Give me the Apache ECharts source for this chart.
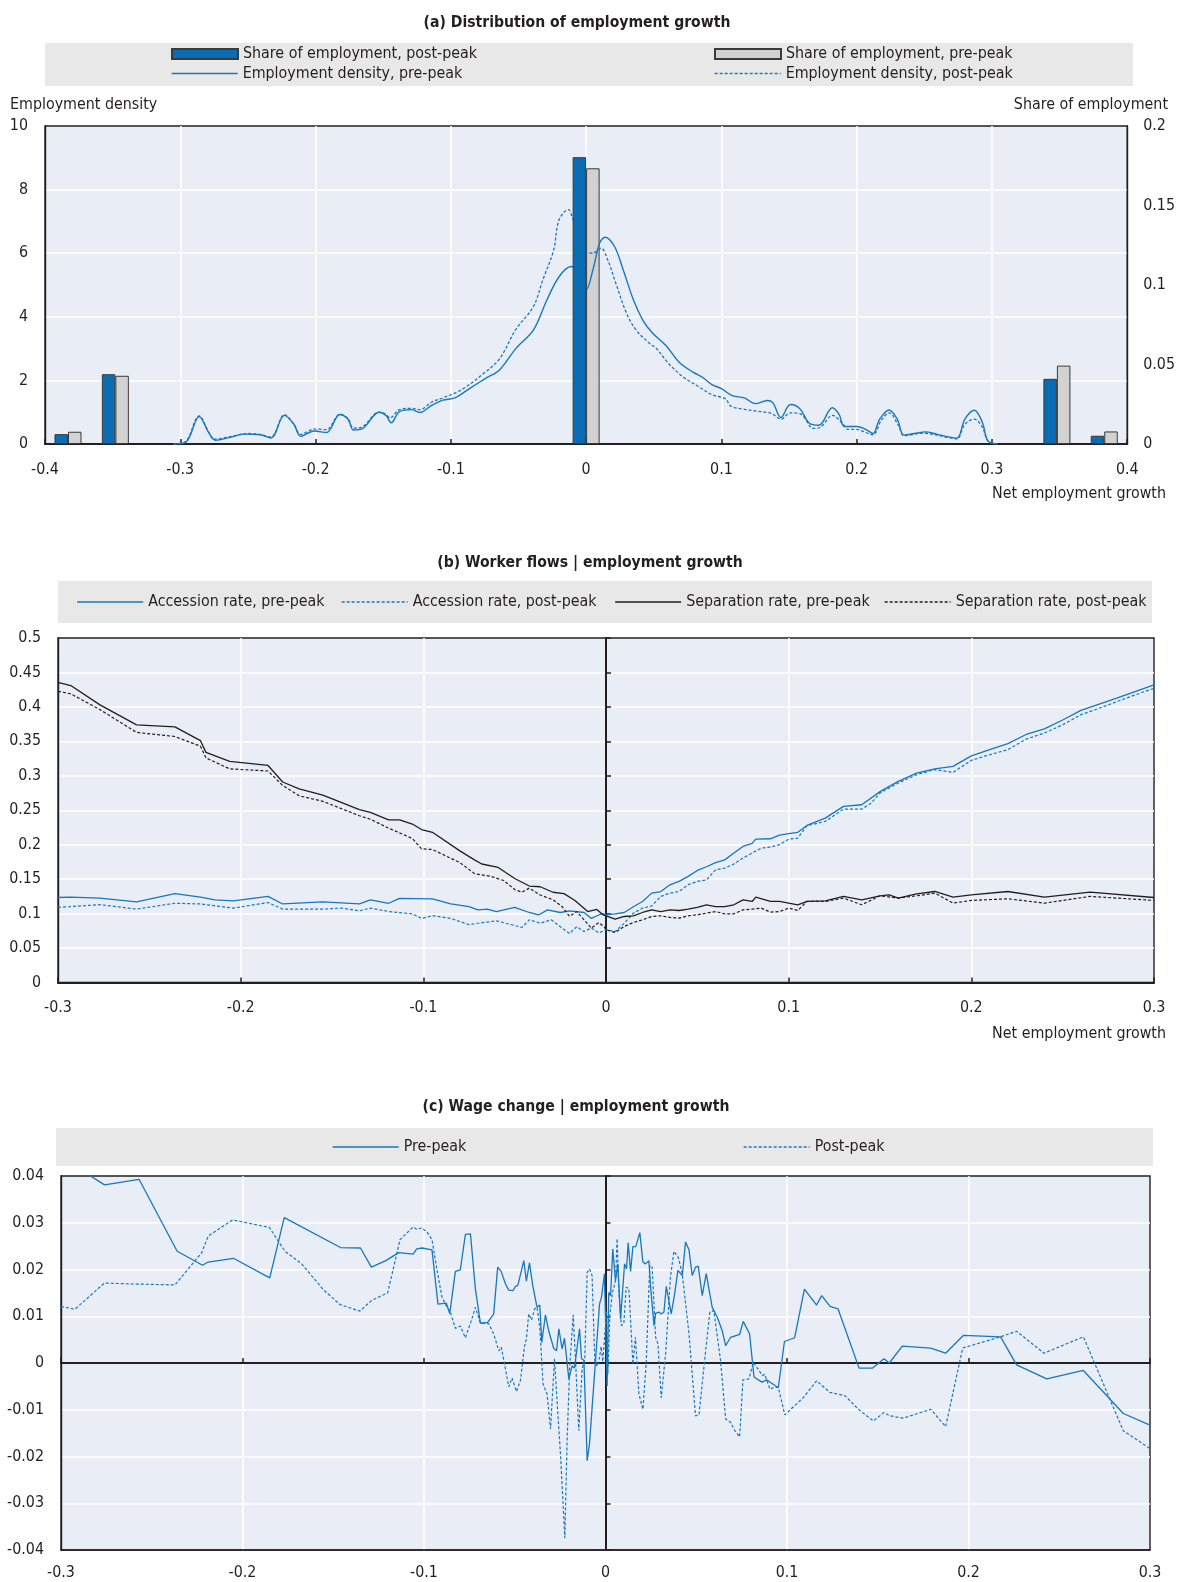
<!DOCTYPE html>
<html><head><meta charset="utf-8">
<script src="https://cdn.jsdelivr.net/npm/echarts@6/dist/echarts.min.js"></script>
<style>html,body{margin:0;padding:0;background:#fff}#c{width:1178px;height:1582px}</style>
</head><body><div id="c"></div>
<script>
// ---------- Panel (a) ----------
const barX = [-0.383, -0.348, 0, 0.348, 0.383];
const sharePost = [0.0062, 0.0439, 0.1804, 0.0410, 0.0052];
const sharePre  = [0.0077, 0.0429, 0.1734, 0.0493, 0.0079];
const densityPre = [[-0.305,0],[-0.296,0.05],[-0.286,0.86],[-0.279,0.36],[-0.274,0.12],[-0.264,0.2],[-0.253,0.31],[-0.241,0.29],[-0.233,0.19],[-0.223,0.9],[-0.216,0.62],[-0.211,0.24],[-0.201,0.41],[-0.192,0.36],[-0.182,0.93],[-0.176,0.78],[-0.172,0.44],[-0.165,0.49],[-0.153,1.0],[-0.148,0.9],[-0.144,0.67],[-0.138,1.02],[-0.129,1.08],[-0.123,0.99],[-0.114,1.22],[-0.106,1.38],[-0.097,1.45],[-0.086,1.75],[-0.074,2.07],[-0.064,2.33],[-0.052,3.0],[-0.039,3.58],[-0.029,4.53],[-0.020,5.26],[-0.011,5.58],[-0.005,5.4],[0,4.84],[0.005,5.47],[0.010,6.32],[0.014,6.5],[0.021,6.21],[0.027,5.53],[0.035,4.53],[0.042,3.89],[0.049,3.49],[0.059,3.1],[0.069,2.56],[0.079,2.26],[0.086,2.1],[0.093,1.87],[0.100,1.74],[0.108,1.52],[0.117,1.45],[0.125,1.27],[0.134,1.37],[0.138,1.3],[0.144,0.83],[0.151,1.24],[0.158,1.11],[0.165,0.65],[0.172,0.59],[0.182,1.14],[0.187,0.93],[0.191,0.55],[0.200,0.55],[0.207,0.45],[0.212,0.33],[0.217,0.78],[0.224,1.07],[0.230,0.78],[0.235,0.28],[0.244,0.34],[0.251,0.38],[0.259,0.31],[0.266,0.24],[0.274,0.18],[0.280,0.78],[0.287,1.06],[0.293,0.67],[0.297,0.1],[0.304,0]];
const densityPost = [[-0.305,0],[-0.296,0.08],[-0.286,0.88],[-0.279,0.38],[-0.275,0.15],[-0.262,0.24],[-0.250,0.33],[-0.241,0.3],[-0.233,0.22],[-0.223,0.92],[-0.216,0.62],[-0.211,0.3],[-0.201,0.47],[-0.192,0.45],[-0.182,0.93],[-0.176,0.8],[-0.172,0.5],[-0.165,0.55],[-0.153,1.0],[-0.148,0.93],[-0.145,0.82],[-0.138,1.08],[-0.129,1.12],[-0.123,1.08],[-0.114,1.32],[-0.106,1.45],[-0.097,1.6],[-0.089,1.79],[-0.076,2.21],[-0.064,2.68],[-0.052,3.6],[-0.039,4.32],[-0.032,5.16],[-0.024,6.1],[-0.020,7.05],[-0.013,7.37],[-0.010,7.1],[-0.005,6.6],[0,6.05],[0.005,6.0],[0.011,6.16],[0.016,5.79],[0.022,5.05],[0.030,4.1],[0.037,3.58],[0.047,3.16],[0.052,3.0],[0.059,2.63],[0.063,2.44],[0.072,2.1],[0.083,1.81],[0.093,1.55],[0.103,1.42],[0.107,1.19],[0.117,1.09],[0.125,1.04],[0.137,0.96],[0.144,0.78],[0.151,0.98],[0.159,0.93],[0.168,0.49],[0.173,0.52],[0.182,0.9],[0.190,0.62],[0.193,0.47],[0.201,0.45],[0.212,0.29],[0.218,0.73],[0.224,0.98],[0.231,0.57],[0.235,0.26],[0.249,0.34],[0.266,0.22],[0.274,0.16],[0.280,0.62],[0.287,0.78],[0.293,0.52],[0.297,0.1],[0.304,0]];

// ---------- Panel (b) ----------
const accessionPre = [[-0.3,0.1234],[-0.293,0.124],[-0.277,0.1225],[-0.257,0.117],[-0.236,0.129],[-0.222,0.124],[-0.214,0.12],[-0.204,0.1186],[-0.185,0.125],[-0.177,0.114],[-0.155,0.117],[-0.135,0.114],[-0.129,0.12],[-0.119,0.115],[-0.113,0.122],[-0.095,0.1215],[-0.085,0.114],[-0.075,0.11],[-0.070,0.1055],[-0.065,0.1065],[-0.060,0.103],[-0.050,0.109],[-0.042,0.1016],[-0.037,0.098],[-0.032,0.1055],[-0.025,0.1016],[-0.020,0.104],[-0.012,0.1016],[-0.008,0.093],[-0.004,0.098],[-0.002,0.1],[0,0.098],[0.005,0.0997],[0.01,0.1016],[0.015,0.110],[0.02,0.1176],[0.025,0.1297],[0.03,0.132],[0.035,0.1418],[0.04,0.1467],[0.045,0.154],[0.05,0.1626],[0.055,0.168],[0.06,0.174],[0.065,0.178],[0.07,0.188],[0.075,0.1975],[0.08,0.202],[0.082,0.208],[0.09,0.2086],[0.095,0.214],[0.1,0.216],[0.105,0.218],[0.11,0.228],[0.12,0.2386],[0.13,0.2556],[0.14,0.258],[0.15,0.277],[0.16,0.292],[0.17,0.304],[0.18,0.31],[0.19,0.3137],[0.2,0.329],[0.21,0.338],[0.22,0.3466],[0.23,0.36],[0.24,0.368],[0.25,0.381],[0.26,0.395],[0.27,0.404],[0.28,0.413],[0.29,0.4226],[0.3,0.432]];
const accessionPost = [[-0.3,0.109],[-0.277,0.113],[-0.257,0.1065],[-0.236,0.115],[-0.222,0.114],[-0.204,0.108],[-0.185,0.116],[-0.177,0.1065],[-0.155,0.1065],[-0.145,0.108],[-0.135,0.104],[-0.129,0.108],[-0.119,0.103],[-0.106,0.0997],[-0.101,0.093],[-0.095,0.097],[-0.085,0.093],[-0.075,0.084],[-0.070,0.086],[-0.060,0.0895],[-0.052,0.084],[-0.046,0.080],[-0.042,0.091],[-0.036,0.086],[-0.030,0.091],[-0.025,0.081],[-0.020,0.071],[-0.016,0.081],[-0.012,0.074],[-0.008,0.079],[-0.004,0.072],[0,0.0765],[0.005,0.074],[0.01,0.086],[0.015,0.1007],[0.02,0.108],[0.025,0.111],[0.03,0.125],[0.035,0.1297],[0.04,0.132],[0.045,0.142],[0.05,0.1467],[0.055,0.149],[0.06,0.1636],[0.065,0.166],[0.07,0.172],[0.075,0.1806],[0.08,0.188],[0.085,0.195],[0.09,0.1965],[0.095,0.2],[0.1,0.208],[0.105,0.2096],[0.11,0.2275],[0.12,0.2338],[0.13,0.2517],[0.14,0.2517],[0.145,0.26],[0.15,0.275],[0.16,0.2895],[0.17,0.3016],[0.18,0.309],[0.19,0.305],[0.2,0.3224],[0.21,0.3306],[0.22,0.338],[0.23,0.3533],[0.24,0.362],[0.25,0.374],[0.26,0.3887],[0.27,0.398],[0.28,0.408],[0.29,0.4177],[0.3,0.427]];
const separationPre = [[-0.3,0.4356],[-0.293,0.431],[-0.277,0.403],[-0.257,0.374],[-0.236,0.371],[-0.222,0.351],[-0.219,0.334],[-0.206,0.321],[-0.185,0.315],[-0.177,0.291],[-0.168,0.281],[-0.155,0.272],[-0.135,0.251],[-0.129,0.247],[-0.119,0.236],[-0.113,0.236],[-0.106,0.23],[-0.101,0.222],[-0.095,0.218],[-0.080,0.191],[-0.072,0.178],[-0.068,0.172],[-0.059,0.167],[-0.050,0.151],[-0.042,0.140],[-0.036,0.139],[-0.029,0.131],[-0.023,0.129],[-0.017,0.119],[-0.010,0.103],[-0.005,0.106],[-0.002,0.099],[0,0.0968],[0.005,0.092],[0.01,0.0958],[0.015,0.0968],[0.02,0.1016],[0.025,0.1055],[0.03,0.103],[0.035,0.1055],[0.04,0.1045],[0.045,0.1065],[0.05,0.109],[0.055,0.1128],[0.06,0.110],[0.065,0.110],[0.07,0.1128],[0.075,0.120],[0.08,0.1176],[0.082,0.124],[0.09,0.1176],[0.095,0.1176],[0.1,0.1152],[0.105,0.1128],[0.11,0.1176],[0.12,0.1186],[0.13,0.1249],[0.14,0.12],[0.15,0.1258],[0.155,0.1273],[0.16,0.1225],[0.17,0.1287],[0.18,0.1321],[0.19,0.1239],[0.2,0.1273],[0.22,0.1321],[0.24,0.1239],[0.265,0.1312],[0.3,0.1234]];
const separationPost = [[-0.3,0.4226],[-0.293,0.419],[-0.277,0.396],[-0.257,0.363],[-0.236,0.357],[-0.222,0.343],[-0.219,0.326],[-0.206,0.31],[-0.185,0.307],[-0.177,0.286],[-0.168,0.271],[-0.155,0.263],[-0.135,0.242],[-0.129,0.237],[-0.119,0.224],[-0.106,0.209],[-0.101,0.194],[-0.095,0.193],[-0.080,0.174],[-0.072,0.158],[-0.063,0.154],[-0.056,0.148],[-0.050,0.135],[-0.046,0.131],[-0.042,0.137],[-0.036,0.127],[-0.029,0.12],[-0.024,0.110],[-0.020,0.096],[-0.016,0.103],[-0.012,0.091],[-0.008,0.079],[-0.004,0.087],[-0.001,0.081],[0,0.0765],[0.005,0.0726],[0.01,0.0813],[0.015,0.0871],[0.02,0.091],[0.025,0.0958],[0.03,0.0968],[0.035,0.0944],[0.04,0.0934],[0.045,0.0968],[0.05,0.0983],[0.055,0.1007],[0.06,0.103],[0.065,0.0997],[0.07,0.0997],[0.075,0.1055],[0.08,0.1065],[0.085,0.108],[0.09,0.1021],[0.095,0.103],[0.1,0.108],[0.105,0.1045],[0.11,0.1176],[0.12,0.1176],[0.13,0.1225],[0.14,0.1128],[0.15,0.1258],[0.16,0.1225],[0.17,0.1258],[0.18,0.1297],[0.19,0.1152],[0.2,0.1191],[0.22,0.1215],[0.24,0.1152],[0.265,0.1249],[0.3,0.1191]];

// ---------- Panel (c) ----------
const wagePre = [[-0.3,0.044],[-0.276,0.0381],[-0.257,0.0393],[-0.236,0.0239],[-0.222,0.0209],[-0.219,0.0216],[-0.205,0.0224],[-0.185,0.0182],[-0.177,0.0311],[-0.146,0.0247],[-0.135,0.0246],[-0.129,0.0205],[-0.121,0.0219],[-0.114,0.0236],[-0.106,0.0233],[-0.104,0.0244],[-0.101,0.0246],[-0.0956,0.0242],[-0.0923,0.0126],[-0.0877,0.0128],[-0.0858,0.0106],[-0.0827,0.0196],[-0.080,0.0199],[-0.0772,0.0275],[-0.0744,0.0276],[-0.0717,0.0159],[-0.0689,0.0085],[-0.0649,0.0087],[-0.0616,0.0105],[-0.0594,0.0205],[-0.0575,0.0196],[-0.0551,0.0169],[-0.0533,0.0156],[-0.0509,0.0155],[-0.0496,0.0164],[-0.0483,0.0166],[-0.045,0.0219],[-0.0436,0.0175],[-0.0419,0.0214],[-0.0401,0.0166],[-0.0377,0.0119],[-0.0362,0.0124],[-0.0351,0.0044],[-0.0331,0.0103],[-0.0313,0.0069],[-0.0285,0.0031],[-0.027,0.0026],[-0.0257,0.0073],[-0.0239,0.003],[-0.0226,0.0053],[-0.0202,-0.0034],[-0.0184,-0.0006],[-0.0171,-0.0011],[-0.0143,0.0073],[-0.0132,0.0009],[-0.0119,0.0006],[-0.0101,-0.0209],[-0.0088,-0.0172],[-0.0079,-0.0174],[-0.0055,0.0005],[-0.0033,0.0126],[-0.0022,0.0141],[-0.0006,0.0191],[0.0009,-0.0049],[0.0018,0.0151],[0.0028,0.0144],[0.004,0.0244],[0.0055,0.0176],[0.0068,0.0212],[0.0083,0.0094],[0.0092,0.0096],[0.0105,0.0212],[0.0116,0.0201],[0.0125,0.0257],[0.0138,0.0196],[0.0151,0.0249],[0.0167,0.0249],[0.0189,0.0279],[0.0206,0.0216],[0.0221,0.0212],[0.0239,0.0219],[0.0248,0.0166],[0.0267,0.008],[0.0276,0.0106],[0.0294,0.0109],[0.0307,0.0105],[0.0322,0.0109],[0.0335,0.0164],[0.0362,0.0105],[0.0381,0.0148],[0.0399,0.0198],[0.0423,0.0187],[0.0441,0.0259],[0.046,0.0242],[0.0478,0.0187],[0.0496,0.0205],[0.0511,0.0207],[0.0533,0.0144],[0.0555,0.0191],[0.0588,0.0119],[0.0616,0.0098],[0.0643,0.0069],[0.0662,0.0037],[0.0689,0.0055],[0.0739,0.0061],[0.0759,0.0089],[0.0794,0.0062],[0.0818,-0.003],[0.0862,-0.0041],[0.0888,-0.0036],[0.0952,-0.0053],[0.0986,0.0046],[0.1042,0.0054],[0.1096,0.0158],[0.1163,0.0124],[0.1191,0.0144],[0.1237,0.0121],[0.1281,0.0116],[0.1397,-0.0011],[0.147,-0.0011],[0.1534,0.0009],[0.1564,0.0],[0.1635,0.0036],[0.1792,0.0032],[0.1874,0.0021],[0.1971,0.0059],[0.2177,0.0056],[0.2265,-0.0004],[0.2431,-0.0034],[0.2633,-0.0016],[0.2853,-0.0108],[0.3,-0.0133]];
const wagePost = [[-0.3,0.0121],[-0.2923,0.0115],[-0.2761,0.0171],[-0.2601,0.0169],[-0.2372,0.0167],[-0.2225,0.0236],[-0.2188,0.0272],[-0.2054,0.0306],[-0.1852,0.029],[-0.1766,0.0239],[-0.1674,0.0212],[-0.1555,0.0157],[-0.1463,0.0125],[-0.1353,0.0111],[-0.1288,0.0134],[-0.12,0.015],[-0.1132,0.0264],[-0.106,0.0291],[-0.1039,0.0286],[-0.1011,0.0289],[-0.0983,0.028],[-0.0956,0.0264],[-0.0928,0.0198],[-0.0901,0.0141],[-0.0873,0.0119],[-0.0855,0.0109],[-0.0827,0.0074],[-0.08,0.0079],[-0.0772,0.0054],[-0.0739,0.0091],[-0.0717,0.0119],[-0.0689,0.0085],[-0.0643,0.0084],[-0.0616,0.0062],[-0.0588,0.0026],[-0.0574,0.0034],[-0.0533,-0.0051],[-0.0515,-0.0032],[-0.0491,-0.0061],[-0.0469,-0.0038],[-0.0447,0.0034],[-0.0436,0.0051],[-0.0423,0.0105],[-0.0408,0.0092],[-0.039,0.0116],[-0.0377,0.0119],[-0.0362,0.0076],[-0.0344,-0.0045],[-0.0322,-0.0066],[-0.0303,-0.0141],[-0.0281,0.0009],[-0.0267,-0.0081],[-0.0248,-0.0195],[-0.0224,-0.0375],[-0.0211,-0.0159],[-0.0197,-0.0006],[-0.0178,0.0103],[-0.0165,0.0005],[-0.0147,-0.0145],[-0.0129,-0.0013],[-0.0114,0.0009],[-0.0101,0.0194],[-0.0088,0.0201],[-0.0074,0.0187],[-0.0059,0.0005],[-0.0046,-0.0007],[-0.0033,0.0012],[-0.0024,0.0035],[-0.0015,0.0003],[-0.0006,0.0005],[0.0006,0.0112],[0.0013,-0.0024],[0.0024,0.0101],[0.0037,0.0148],[0.0055,0.0176],[0.0064,0.0266],[0.0074,0.0148],[0.0088,0.008],[0.0101,0.0084],[0.0114,0.0162],[0.0129,0.0159],[0.0151,-0.0002],[0.0165,0.0055],[0.0184,-0.0066],[0.0206,-0.0099],[0.0224,-0.0002],[0.0244,0.0209],[0.0257,0.0205],[0.0276,0.0055],[0.0289,0.0041],[0.0307,-0.0074],[0.0331,0.0019],[0.0358,0.0184],[0.0377,0.0239],[0.0401,0.0226],[0.0423,0.0191],[0.046,0.0062],[0.0496,-0.0113],[0.0515,-0.0111],[0.0546,0.0005],[0.0575,0.0109],[0.0597,0.0112],[0.0634,0.0005],[0.0662,-0.012],[0.0689,-0.0127],[0.0713,-0.0145],[0.0739,-0.0158],[0.0757,-0.0036],[0.079,-0.0034],[0.0814,0.0001],[0.0846,-0.0016],[0.0864,-0.0027],[0.0877,-0.0024],[0.0906,-0.0056],[0.0928,-0.0052],[0.0952,-0.0052],[0.0988,-0.0111],[0.109,-0.0074],[0.1163,-0.0038],[0.1237,-0.0063],[0.132,-0.007],[0.1393,-0.0099],[0.1476,-0.0124],[0.1534,-0.0106],[0.1567,-0.0113],[0.1641,-0.0118],[0.1792,-0.0099],[0.1874,-0.0136],[0.1968,0.0032],[0.2177,0.0056],[0.2265,0.0068],[0.2416,0.0021],[0.2633,0.0056],[0.2853,-0.0145],[0.3,-0.0183]];

// ---------- fonts ----------
const mctx = document.createElement('canvas').getContext('2d');
function avail(f){
  const t='Accession rate, pre-peak 0.45';
  mctx.font='40px monospace'; const a=mctx.measureText(t).width;
  mctx.font='40px "'+f+'", monospace'; const b=mctx.measureText(t).width;
  mctx.font='40px serif'; const c=mctx.measureText(t).width;
  mctx.font='40px "'+f+'", serif'; const d=mctx.measureText(t).width;
  return a!==b || c!==d;
}
const FAM = ['Liberation Sans Narrow','Arial Narrow','Nimbus Sans Narrow','DejaVu Sans Condensed','Liberation Sans'].find(avail) || 'sans-serif';
function tw(txt, weight){ mctx.font=(weight||'normal')+' 100px "'+FAM+'"'; return mctx.measureText(txt).width; }
const FS = Math.max(12, Math.min(19, 176.5*100/tw('Accession rate, pre-peak')));
const TFS = Math.max(12, Math.min(20, 307*100/tw('(a) Distribution of employment growth','bold')));
const FF = '"'+FAM+'", sans-serif';
const TXT = '#231F20';
const BLUE = '#1777BF', BARBLUE = '#0A6DB4', BLACK = '#231F20';

const zip = (xs, ys) => xs.map((x, i) => [x, ys[i]]);

const lbl = (margin) => ({ margin, fontSize: FS, fontFamily: FF, color: TXT });
const white = { show: true, showMinLine: false, showMaxLine: false, lineStyle: { color: '#ffffff', width: 1.5 } };
const gridStyle = { show: true, backgroundColor: '#E9EDF6', borderColor: BLACK, borderWidth: 1.4 };

function legendItem(name, left, rowY, isBar) {
  const o = { data: [name], left, top: rowY - 10, orient: 'horizontal', padding: 0, itemWidth: 66, itemHeight: 10,
    selectedMode: false, textStyle: { fontSize: FS, fontFamily: FF, color: TXT, lineHeight: 20 } };
  if (isBar) { o.icon = 'rect'; }
  else { o.itemStyle = { opacity: 0 }; o.lineStyle = { width: 1.3 }; }
  return o;
}

const chart = echarts.init(document.getElementById('c'), null, { renderer: 'canvas' });
const option = {
  animation: false,
  backgroundColor: '#ffffff',
  grid: [
    Object.assign({ left: 45, top: 126, width: 1083, height: 318 }, gridStyle),
    Object.assign({ left: 58, top: 638, width: 1096, height: 344.5 }, gridStyle),
    Object.assign({ left: 61, top: 1176, width: 1089, height: 374 }, gridStyle)
  ],
  xAxis: [
    { gridIndex: 0, type: 'value', min: -0.4, max: 0.4, interval: 0.1, position: 'bottom',
      axisLine: { onZero: false, lineStyle: { color: BLACK, width: 2 } },
      axisTick: { show: true, inside: true, length: 5, lineStyle: { color: BLACK, width: 1.5 } },
      axisLabel: lbl(18), splitLine: white },
    { gridIndex: 1, type: 'value', min: -0.3, max: 0.3, interval: 0.1, position: 'bottom',
      axisLine: { onZero: false, lineStyle: { color: BLACK, width: 2 } },
      axisTick: { show: true, inside: true, length: 5, lineStyle: { color: BLACK, width: 1.5 } },
      axisLabel: lbl(17), splitLine: white },
    { gridIndex: 2, type: 'value', min: -0.3, max: 0.3, interval: 0.1, position: 'bottom',
      axisLine: { onZero: false, lineStyle: { color: BLACK, width: 1.5 } },
      axisTick: { show: false }, axisLabel: lbl(15), splitLine: white },
    { gridIndex: 2, type: 'value', min: -0.3, max: 0.3, interval: 0.1, position: 'bottom',
      axisLine: { onZero: true, lineStyle: { color: BLACK, width: 2.2 } },
      axisTick: { show: true, inside: true, length: 5, lineStyle: { color: BLACK, width: 1.5 } },
      axisLabel: { show: false }, splitLine: { show: false } }
  ],
  yAxis: [
    { gridIndex: 0, type: 'value', min: 0, max: 10, interval: 2, position: 'left',
      axisLine: { show: true, onZero: false, lineStyle: { color: BLACK, width: 1.4 } },
      axisTick: { show: false }, axisLabel: lbl(17), splitLine: white },
    { gridIndex: 0, type: 'value', min: 0, max: 0.2, interval: 0.05, position: 'right',
      axisLine: { show: true, onZero: false, lineStyle: { color: BLACK, width: 1.4 } },
      axisTick: { show: false }, axisLabel: lbl(16), splitLine: { show: false } },
    { gridIndex: 1, type: 'value', min: 0, max: 0.5, interval: 0.05, position: 'left',
      axisLine: { show: true, onZero: false, lineStyle: { color: BLACK, width: 1.4 } },
      axisTick: { show: false }, axisLabel: lbl(17), splitLine: white },
    { gridIndex: 1, type: 'value', min: 0, max: 0.5, interval: 0.05, position: 'left',
      axisLine: { show: true, onZero: true, lineStyle: { color: BLACK, width: 2 } },
      axisTick: { show: true, inside: true, length: 5, lineStyle: { color: BLACK, width: 1.5 } },
      axisLabel: { show: false }, splitLine: { show: false } },
    { gridIndex: 2, type: 'value', min: -0.04, max: 0.04, interval: 0.01, position: 'left',
      axisLine: { show: true, onZero: false, lineStyle: { color: BLACK, width: 1.4 } },
      axisTick: { show: false }, axisLabel: lbl(17), splitLine: white },
    { gridIndex: 2, type: 'value', min: -0.04, max: 0.04, interval: 0.01, position: 'left',
      axisLine: { show: true, onZero: true, lineStyle: { color: BLACK, width: 2 } },
      axisTick: { show: true, inside: true, length: 5, lineStyle: { color: BLACK, width: 1.5 } },
      axisLabel: { show: false }, splitLine: { show: false } }
  ],
  legend: [
    legendItem('Share of employment, post-peak', 171, 54, true),
    legendItem('Employment density, pre-peak', 171, 73.5),
    legendItem('Share of employment, pre-peak', 714, 54, true),
    legendItem('Employment density, post-peak', 714, 73.5),
    legendItem('Accession rate, pre-peak', 76.5, 602),
    legendItem('Accession rate, post-peak', 341, 602),
    legendItem('Separation rate, pre-peak', 614.5, 602),
    legendItem('Separation rate, post-peak', 884, 602),
    legendItem('Pre-peak', 332, 1147),
    legendItem('Post-peak', 743, 1147)
  ],
  graphic: [
    { type: 'rect', z: -10, shape: { x: 45, y: 43, width: 1088, height: 43 }, style: { fill: '#E8E8E8' } },
    { type: 'rect', z: -10, shape: { x: 58, y: 581, width: 1094, height: 42 }, style: { fill: '#E8E8E8' } },
    { type: 'rect', z: -10, shape: { x: 56, y: 1128, width: 1097, height: 38 }, style: { fill: '#E8E8E8' } },
    { type: 'text', x: 577, y: 23, style: { text: '(a) Distribution of employment growth', fill: TXT, font: 'bold ' + TFS + 'px ' + FF, textAlign: 'center', textVerticalAlign: 'middle' } },
    { type: 'text', x: 590, y: 563, style: { text: '(b) Worker flows | employment growth', fill: TXT, font: 'bold ' + TFS + 'px ' + FF, textAlign: 'center', textVerticalAlign: 'middle' } },
    { type: 'text', x: 576, y: 1107, style: { text: '(c) Wage change | employment growth', fill: TXT, font: 'bold ' + TFS + 'px ' + FF, textAlign: 'center', textVerticalAlign: 'middle' } },
    { type: 'text', x: 10, y: 105, style: { text: 'Employment density', fill: TXT, font: FS + 'px ' + FF, textAlign: 'left', textVerticalAlign: 'middle' } },
    { type: 'text', x: 1168, y: 105, style: { text: 'Share of employment', fill: TXT, font: FS + 'px ' + FF, textAlign: 'right', textVerticalAlign: 'middle' } },
    { type: 'text', x: 1166, y: 494, style: { text: 'Net employment growth', fill: TXT, font: FS + 'px ' + FF, textAlign: 'right', textVerticalAlign: 'middle' } },
    { type: 'text', x: 1166, y: 1034, style: { text: 'Net employment growth', fill: TXT, font: FS + 'px ' + FF, textAlign: 'right', textVerticalAlign: 'middle' } }
  ],
  series: [
    { name: 'Share of employment, post-peak', type: 'bar', xAxisIndex: 0, yAxisIndex: 1, z: 5,
      data: zip(barX, sharePost), barWidth: 13.5, barGap: '0%',
      itemStyle: { color: BARBLUE, borderColor: '#3A3A3A', borderWidth: 1 } },
    { name: 'Share of employment, pre-peak', type: 'bar', xAxisIndex: 0, yAxisIndex: 1, z: 2,
      data: zip(barX, sharePre), barWidth: 13.5, barGap: '0%',
      itemStyle: { color: '#D2D2D2', borderColor: '#3A3A3A', borderWidth: 1 } },
    { name: 'Employment density, pre-peak', type: 'line', xAxisIndex: 0, yAxisIndex: 0, z: 3,
      data: densityPre, smooth: 0.35, symbol: 'none', lineStyle: { color: BLUE, width: 1.4 }, itemStyle: { color: BLUE } },
    { name: 'Employment density, post-peak', type: 'line', xAxisIndex: 0, yAxisIndex: 0, z: 3,
      data: densityPost, smooth: 0.35, symbol: 'none', lineStyle: { color: BLUE, width: 1.3, type: [3, 2] }, itemStyle: { color: BLUE } },

    { name: 'Accession rate, pre-peak', type: 'line', xAxisIndex: 1, yAxisIndex: 2, data: accessionPre, symbol: 'none',
      lineStyle: { color: BLUE, width: 1.3 }, itemStyle: { color: BLUE } },
    { name: 'Accession rate, post-peak', type: 'line', xAxisIndex: 1, yAxisIndex: 2, data: accessionPost, symbol: 'none',
      lineStyle: { color: BLUE, width: 1.2, type: [3, 2] }, itemStyle: { color: BLUE } },
    { name: 'Separation rate, pre-peak', type: 'line', xAxisIndex: 1, yAxisIndex: 2, data: separationPre, symbol: 'none',
      lineStyle: { color: BLACK, width: 1.3 }, itemStyle: { color: BLACK } },
    { name: 'Separation rate, post-peak', type: 'line', xAxisIndex: 1, yAxisIndex: 2, data: separationPost, symbol: 'none',
      lineStyle: { color: BLACK, width: 1.2, type: [3, 2] }, itemStyle: { color: BLACK } },

    { name: 'Pre-peak', type: 'line', xAxisIndex: 2, yAxisIndex: 4, data: wagePre, symbol: 'none',
      lineStyle: { color: BLUE, width: 1.3 }, itemStyle: { color: BLUE } },
    { name: 'Post-peak', type: 'line', xAxisIndex: 2, yAxisIndex: 4, data: wagePost, symbol: 'none',
      lineStyle: { color: BLUE, width: 1.2, type: [3, 2] }, itemStyle: { color: BLUE } }
  ]
};
chart.setOption(option);
</script></body></html>
